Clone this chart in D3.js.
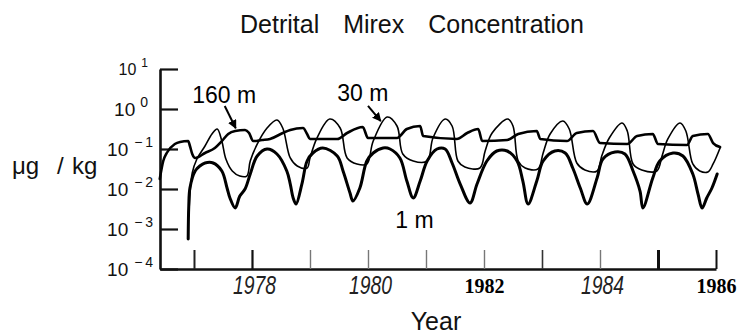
<!DOCTYPE html>
<html><head><meta charset="utf-8">
<script src="https://cdn.jsdelivr.net/npm/d3@7"></script>
<style>
html,body{margin:0;padding:0;background:#fff;}
svg{display:block;}
</style></head>
<body>
<svg id="chart" width="744" height="335"></svg>
<script>
// ---------- DATA ----------
const titleText = "Detrital Mirex Concentration";
const yLabelParts = ["\u03bcg", "/", "kg"];
const xLabelText = "Year";
const yDecades = [1, 0, -1, -2, -3, -4];           // exponents of 10
const xTickYears = [1977, 1978, 1979, 1980, 1981, 1982, 1983, 1984, 1985, 1986];
const xLabelYears = [1978, 1980, 1982, 1984, 1986];

// [year, µg/kg]
const series1m = [
  [1976.90,0.000562],[1976.91,0.00376],[1976.93,0.0106],[1977.02,0.0282],[1977.10,0.0376],
  [1977.19,0.0447],[1977.33,0.0447],[1977.48,0.0282],[1977.57,0.0106],[1977.62,0.00596],
  [1977.71,0.00335],[1977.79,0.00668],[1977.88,0.01],[1977.97,0.0237],[1978.09,0.0668],
  [1978.26,0.1],[1978.43,0.075],[1978.60,0.0282],[1978.66,0.0133],[1978.71,0.00596],
  [1978.76,0.00422],[1978.86,0.0133],[1978.95,0.0501],[1979.05,0.0794],[1979.22,0.106],
  [1979.47,0.0668],[1979.57,0.0282],[1979.69,0.00794],[1979.74,0.00501],[1979.86,0.0106],
  [1979.98,0.0501],[1980.09,0.0794],[1980.26,0.106],[1980.38,0.1],[1980.55,0.0596],
  [1980.67,0.0158],[1980.78,0.00596],[1980.90,0.0158],[1981.02,0.0501],[1981.19,0.1],
  [1981.33,0.1],[1981.45,0.0447],[1981.59,0.0133],[1981.76,0.00447],[1981.88,0.0133],
  [1982.05,0.0501],[1982.22,0.0891],[1982.40,0.0891],[1982.57,0.0501],[1982.67,0.0158],
  [1982.76,0.00422],[1982.91,0.0158],[1983.02,0.0501],[1983.22,0.0891],[1983.40,0.0794],
  [1983.53,0.0335],[1983.66,0.0106],[1983.78,0.00422],[1983.95,0.0188],[1984.05,0.0562],
  [1984.26,0.0841],[1984.43,0.075],[1984.57,0.0282],[1984.69,0.00891],[1984.74,0.00335],
  [1984.91,0.0188],[1985.03,0.0501],[1985.26,0.0794],[1985.43,0.0668],[1985.60,0.0237],
  [1985.69,0.0075],[1985.76,0.00335],[1985.84,0.00596],[1985.93,0.0106],[1986.02,0.0237]
];

const series30m = [
  [1976.91,0.00211],[1976.97,0.0251],[1977.05,0.0562],[1977.19,0.119],[1977.31,0.237],
  [1977.40,0.316],[1977.48,0.158],[1977.55,0.0562],[1977.66,0.0282],[1977.79,0.0211],
  [1977.91,0.0211],[1977.97,0.0501],[1978.09,0.133],[1978.26,0.335],[1978.43,0.531],
  [1978.53,0.335],[1978.66,0.0596],[1978.78,0.0376],[1978.95,0.0335],[1979.00,0.0596],
  [1979.12,0.188],[1979.34,0.562],[1979.52,0.335],[1979.64,0.0596],[1979.81,0.0422],
  [1979.98,0.0422],[1980.09,0.158],[1980.33,0.631],[1980.50,0.376],[1980.60,0.075],
  [1980.78,0.0501],[1981.02,0.0501],[1981.12,0.188],[1981.33,0.562],[1981.45,0.376],
  [1981.55,0.0501],[1981.67,0.0355],[1981.93,0.0335],[1982.02,0.0891],[1982.14,0.251],
  [1982.41,0.562],[1982.50,0.376],[1982.59,0.0501],[1982.71,0.0335],[1982.93,0.0316],
  [1983.02,0.0794],[1983.14,0.237],[1983.36,0.501],[1983.47,0.316],[1983.60,0.0447],
  [1983.74,0.0299],[1983.95,0.0282],[1984.03,0.0668],[1984.16,0.188],[1984.38,0.447],
  [1984.47,0.282],[1984.57,0.0422],[1984.72,0.0299],[1984.98,0.0282],[1985.07,0.0668],
  [1985.17,0.178],[1985.38,0.447],[1985.48,0.282],[1985.60,0.0422],[1985.72,0.0282],
  [1985.86,0.0266],[1985.95,0.0422],[1986.07,0.106]
];

const series160m = [
  [1976.41,0.0178],[1976.47,0.0501],[1976.53,0.0794],[1976.67,0.133],[1976.76,0.150],
  [1976.90,0.158],[1976.93,0.119],[1976.97,0.075],[1977.02,0.0596],[1977.19,0.0794],
  [1977.36,0.106],[1977.48,0.158],[1977.59,0.237],[1977.71,0.282],[1977.88,0.299],
  [1977.95,0.251],[1978.02,0.158],[1978.17,0.168],[1978.31,0.178],[1978.53,0.251],
  [1978.66,0.299],[1978.88,0.335],[1978.95,0.237],[1979.00,0.178],[1979.47,0.178],
  [1979.64,0.251],[1979.91,0.355],[1980.00,0.188],[1980.50,0.188],[1980.67,0.316],
  [1980.90,0.376],[1980.95,0.211],[1981.53,0.178],[1981.71,0.251],[1981.90,0.316],
  [1981.97,0.158],[1982.40,0.168],[1982.59,0.237],[1982.91,0.282],[1982.97,0.178],
  [1983.43,0.158],[1983.60,0.251],[1983.88,0.282],[1984.00,0.141],[1984.47,0.133],
  [1984.64,0.211],[1984.91,0.237],[1985.00,0.133],[1985.50,0.126],[1985.60,0.211],
  [1985.86,0.237],[1985.95,0.141],[1986.07,0.112]
];

// annotations: label anchor and arrow (data space)
const seriesLabels = [
  {text:"160 m", year:1976.97, value:1.41, arrow:[[1977.53,1.19],[1977.72,0.33]]},
  {text:"30 m",  year:1979.47, value:1.58, arrow:[[1980.00,1.19],[1980.22,0.50]]},
  {text:"1 m",   year:1980.47, value:0.00106, arrow:null}
];

// ---------- CHART ----------
const svg = d3.select("#chart");
const x = d3.scaleLinear().domain([1976.414, 1986]).range([160, 716]);
const y = d3.scaleLog().domain([1e-4, 10]).range([269, 69]);
const SANS = "Liberation Sans, Arial, Helvetica, sans-serif";

// title
svg.append("text").attr("x", 240).attr("y", 33)
  .attr("font-family", SANS).attr("font-size", 25)
  .attr("word-spacing", 17).attr("fill", "#111").text(titleText);

// x axis ticks
const tickStyle = {1977:[2,"#222"],1978:[2.2,"#111"],1979:[1.4,"#777"],1980:[1.4,"#777"],
  1981:[1.4,"#777"],1982:[1.4,"#777"],1983:[1.6,"#333"],1984:[1.4,"#777"],1985:[3,"#111"],1986:[2,"#111"]};
const xAxis = svg.append("g").attr("transform", "translate(0,269)")
  .call(d3.axisBottom(x).tickValues(xTickYears).tickSizeInner(-19).tickSizeOuter(0).tickFormat(""));
xAxis.select(".domain").attr("stroke", "#111").attr("stroke-width", 2.6);
xAxis.selectAll(".tick line").each(function(d){
  d3.select(this).attr("stroke", tickStyle[d][1]).attr("stroke-width", tickStyle[d][0]);
});

// x labels
const xLab = svg.append("g").attr("transform", "translate(0,269)")
  .call(d3.axisBottom(x).tickValues(xLabelYears).tickSize(0).tickPadding(0).tickFormat(d3.format("d")));
xLab.select(".domain").remove();
xLab.selectAll(".tick text").each(function(d){
  const t = d3.select(this).attr("dy", null).attr("y", 0);
  if (d === 1982 || d === 1986) {
    t.attr("transform", "translate(0,24)")
     .attr("font-family", "Liberation Serif, Times New Roman, serif")
     .attr("font-weight", "bold").attr("font-size", 20).attr("fill", "#000");
  } else {
    t.attr("transform", "translate(2,25)")
     .attr("font-family", "Liberation Sans Narrow, Liberation Sans, Arial, sans-serif")
     .attr("font-style", "italic").attr("font-size", 25).attr("fill", "#222")
     .attr("textLength", 43).attr("lengthAdjust", "spacingAndGlyphs");
  }
});

// y axis
const yAxis = svg.append("g").attr("transform", "translate(160,0)")
  .call(d3.axisLeft(y).tickValues(yDecades.map(e => Math.pow(10, e)))
    .tickSizeInner(-18).tickSizeOuter(0).tickFormat(""));
yAxis.select(".domain").attr("stroke", "#111").attr("stroke-width", 2.6);
yAxis.selectAll(".tick line").attr("stroke", "#111").attr("stroke-width", 2.2);

// y labels with superscripts
yDecades.forEach(e => {
  const yy = y(Math.pow(10, e));
  const top = e === 1;
  const t = svg.append("text")
    .attr("x", e >= 0 ? 148 : 153).attr("y", yy + (top ? 6 : 7))
    .attr("text-anchor", "end")
    .attr("font-family", SANS)
    .attr("font-size", top ? 16 : 19).attr("fill", "#111");
  t.append("tspan").text("10");
  t.append("tspan").attr("dy", top ? -8 : -9).attr("dx", e < 0 ? 6 : 5)
    .attr("font-size", top ? 12 : 14)
    .text(e < 0 ? "\u2212\u2009" + Math.abs(e) : String(e));
});

// y axis title
const yt = svg.append("text").attr("y", 174)
  .attr("font-family", SANS).attr("font-size", 24).attr("fill", "#111");
[12, 57, 72].forEach((px, i) => yt.append("tspan").attr("x", px).text(yLabelParts[i]));

// x axis title
svg.append("text").attr("x", 436).attr("y", 330).attr("text-anchor", "middle")
  .attr("font-family", SANS).attr("font-size", 25)
  .attr("fill", "#111").text(xLabelText);

// lines
const lineSmooth = d3.line().x(d => x(d[0])).y(d => y(d[1])).curve(d3.curveCatmullRom.alpha(0.5));
const lineFlat = d3.line().x(d => x(d[0])).y(d => y(d[1])).curve(d3.curveMonotoneX);
[[series160m, 2.6, lineFlat], [series30m, 1.6, lineSmooth], [series1m, 3.0, lineSmooth]].forEach(([s, w, gen]) => {
  svg.append("path").datum(s).attr("d", gen)
    .attr("fill", "none").attr("stroke", "#000").attr("stroke-width", w)
    .attr("stroke-linejoin", "round").attr("stroke-linecap", "round");
});

// annotations
svg.append("defs").append("marker").attr("id", "ah")
  .attr("viewBox", "0 0 10 10").attr("refX", 9).attr("refY", 5)
  .attr("markerWidth", 9).attr("markerHeight", 9).attr("markerUnits", "userSpaceOnUse")
  .attr("orient", "auto")
  .append("path").attr("d", "M0,0L10,5L0,10Z").attr("fill", "#000");

seriesLabels.forEach(l => {
  svg.append("text").attr("x", x(l.year)).attr("y", y(l.value))
    .attr("font-family", SANS).attr("font-size", 23)
    .attr("fill", "#000").text(l.text);
  if (l.arrow) {
    svg.append("line")
      .attr("x1", x(l.arrow[0][0])).attr("y1", y(l.arrow[0][1]))
      .attr("x2", x(l.arrow[1][0])).attr("y2", y(l.arrow[1][1]))
      .attr("stroke", "#000").attr("stroke-width", 2).attr("marker-end", "url(#ah)");
  }
});
</script>
</body></html>
